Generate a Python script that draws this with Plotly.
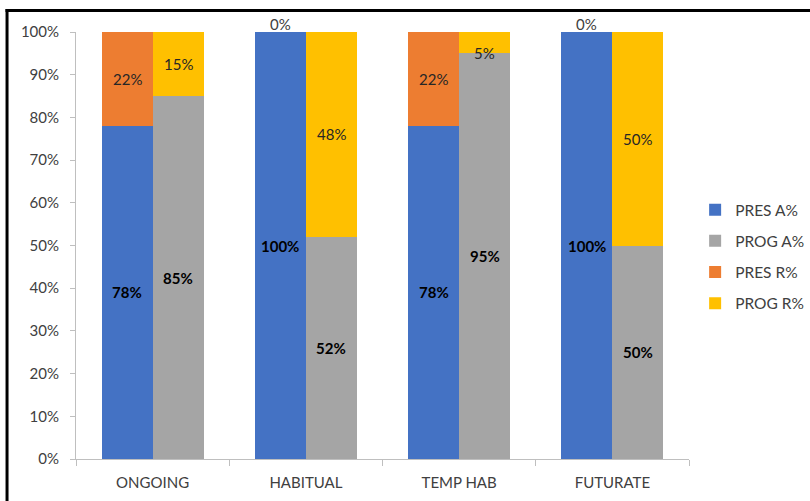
import plotly.graph_objects as go

categories = ["ONGOING", "HABITUAL", "TEMP HAB", "FUTURATE"]
pres_a = [78, 100, 78, 100]
pres_r = [22, 0, 22, 0]
prog_a = [85, 52, 95, 50]
prog_r = [15, 48, 5, 50]
y_ticks = list(range(0, 101, 10))
y_tick_labels = [f"{v}%" for v in y_ticks]

colors = {"PRES A%": "#4472C4", "PROG A%": "#A5A5A5", "PRES R%": "#ED7D31", "PROG R%": "#FFC000"}
FONT = "Lato"
W = 1 / 3
xs = list(range(len(categories)))
x_pres = [i - W / 2 for i in xs]
x_prog = [i + W / 2 for i in xs]

fig = go.Figure()
series = [
    ("PRES A%", x_pres, pres_a, None, True),
    ("PROG A%", x_prog, prog_a, None, True),
    ("PRES R%", x_pres, pres_r, pres_a, False),
    ("PROG R%", x_prog, prog_r, prog_a, False),
]
for k, (name, xv, vals, base, bold) in enumerate(series):
    fig.add_trace(go.Bar(
        name=name, x=xv, y=vals, width=W, marker=dict(color=colors[name], line=dict(width=0)),
        legendgroup=name, legendrank=k,
    ))

annotations = []
for name, xv, vals, base, bold in series:
    for j, v in enumerate(vals):
        b = base[j] if base else 0
        txt = f"<b>{v}%</b>" if bold else f"{v}%"
        if v == 0:
            annotations.append(dict(x=xv[j], y=b, text=txt, showarrow=False, yanchor="bottom",
                                    yshift=-3, font=dict(family=FONT, size=15, color="#404040")))
        elif v < 10:
            annotations.append(dict(x=xv[j], y=b, text=txt, showarrow=False, yanchor="middle",
                                    font=dict(family=FONT, size=15, color="#262626")))
        else:
            annotations.append(dict(x=xv[j], y=b + v / 2, text=txt, showarrow=False, yanchor="middle",
                                    font=dict(family=FONT, size=15, color="#000000" if bold else "#262626")))

fig.update_layout(
    width=810, height=501,
    margin=dict(l=76, r=121, t=32, b=42, autoexpand=False),
    barmode="stack", bargap=0,
    plot_bgcolor="white", paper_bgcolor="white",
    font=dict(family=FONT, size=15, color="#595959"),
    showlegend=True,
    legend=dict(x=1.010, y=0.474, xanchor="left", yanchor="middle", traceorder="grouped",
                tracegroupgap=8, font=dict(family=FONT, size=15.5, color="#404040"),
                itemwidth=30, bgcolor="rgba(0,0,0,0)"),
    annotations=annotations,
    shapes=[
        dict(type="line", xref="paper", yref="paper", x0=-0.115, x1=1.3, y0=1.0505, y1=1.0505,
             line=dict(color="black", width=3)),
        dict(type="line", xref="paper", yref="paper", x0=-0.1125, x1=-0.1125, y0=1.054, y1=-0.2,
             line=dict(color="black", width=3)),
    ],
)
fig.update_xaxes(
    range=[-0.5, 3.5], tickvals=xs, ticktext=categories, ticks="", showgrid=False, zeroline=False,
    showline=True, linecolor="#BFBFBF", linewidth=1, ticklabelstandoff=10,
    tickfont=dict(family=FONT, size=15, color="#404040"),
    minor=dict(tick0=-0.5, dtick=1, ticks="outside", ticklen=6, tickcolor="#BFBFBF", showgrid=False),
)
fig.update_yaxes(
    range=[0, 100], tickvals=y_ticks, ticktext=y_tick_labels, ticks="outside", ticklen=5,
    tickcolor="#BFBFBF", showgrid=False, zeroline=False, showline=True, linecolor="#BFBFBF",
    linewidth=1, tickfont=dict(family=FONT, size=15, color="#404040"), ticklabelstandoff=8,
)
fig.write_html("out.html")
